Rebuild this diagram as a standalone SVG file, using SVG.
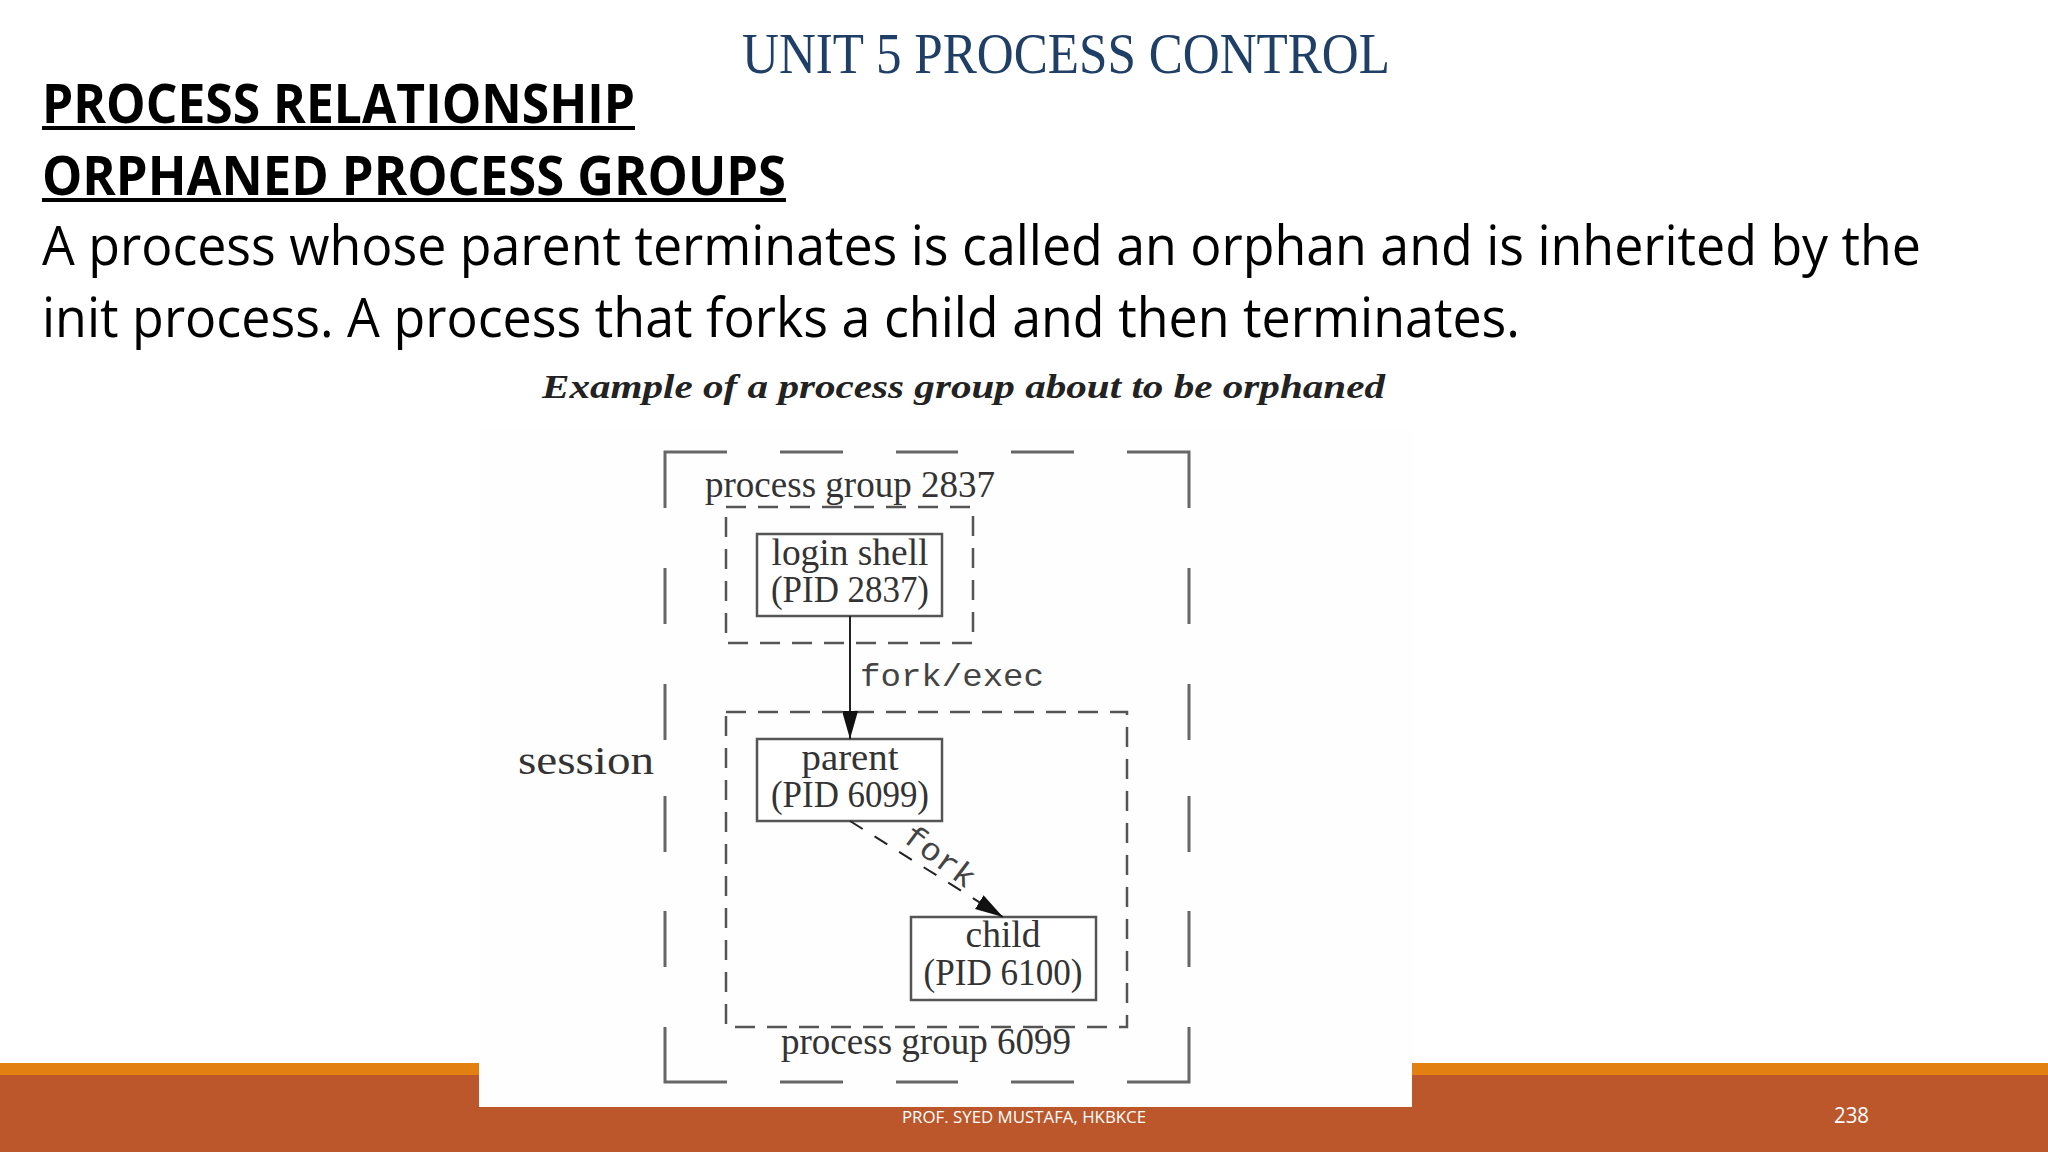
<svg xmlns="http://www.w3.org/2000/svg" width="2048" height="1152" viewBox="0 0 2048 1152">
<style>
.h{font-family:"Open Sans","Noto Sans",sans-serif;font-size:54px;fill:#000}
.b{font-weight:700}
.d{font-family:"Liberation Serif",serif;font-size:37px;fill:#333;text-anchor:middle}
.m{font-family:"Liberation Mono",monospace;font-size:32px;fill:#444}
.box{fill:#fff;stroke:#555;stroke-width:2.5}
.outer{fill:none;stroke:#666;stroke-width:3}
.inner{fill:none;stroke:#555;stroke-width:2.5;stroke-dasharray:20 12}
.f{font-family:"Open Sans","Noto Sans",sans-serif;fill:#fff}
</style>
<defs>
<marker id="arrow" markerUnits="userSpaceOnUse" markerWidth="30" markerHeight="18" refX="28" refY="8" orient="auto"><path d="M0 0L28 8L0 16Z" fill="#111"/></marker>
</defs>
<rect width="2048" height="1152" fill="#fff"/>
<g id="footer">
<rect x="0" y="1063" width="2048" height="12" fill="#e28012"/>
<rect x="0" y="1075" width="2048" height="77" fill="#bb572a"/>
</g>
<text id="title" x="742" y="73" font-family="Liberation Serif,serif" font-size="57" fill="#1f3f66" textLength="648" lengthAdjust="spacingAndGlyphs">UNIT 5 PROCESS CONTROL</text>
<g id="body">
<text class="h b" x="42" y="123" textLength="593" lengthAdjust="spacingAndGlyphs">PROCESS RELATIONSHIP</text>
<rect x="42" y="126" width="593" height="4" fill="#000"/>
<text class="h b" x="42" y="195" textLength="744" lengthAdjust="spacingAndGlyphs">ORPHANED PROCESS GROUPS</text>
<rect x="42" y="198" width="744" height="4" fill="#000"/>
<text class="h" x="42" y="265" textLength="1879" lengthAdjust="spacingAndGlyphs">A process whose parent terminates is called an orphan and is inherited by the</text>
<text class="h" x="42" y="337" textLength="1478" lengthAdjust="spacingAndGlyphs">init process. A process that forks a child and then terminates.</text>
</g>
<rect id="figure-bg" x="479" y="430" width="933" height="677" fill="#fefefe"/>
<text id="caption" x="542" y="398" font-family="Liberation Serif,serif" font-size="34" font-style="italic" font-weight="700" fill="#222" textLength="843" lengthAdjust="spacingAndGlyphs">Example of a process group about to be orphaned</text>
<g id="session">
<path class="outer" d="M665 508V452H727M780 452H843M896 452H958M1011 452H1074M1127 452H1189V508"/>
<path class="outer" d="M665 568V624M665 684V740M665 796V852M665 911V967M1189 568V624M1189 684V740M1189 796V852M1189 911V967"/>
<path class="outer" d="M665 1027V1082H727M780 1082H843M896 1082H958M1011 1082H1074M1127 1082H1189V1027"/>
<text class="d" x="586" y="774" style="font-size:41px" textLength="136" lengthAdjust="spacingAndGlyphs">session</text>
</g>
<g id="group-2837">
<rect class="inner" x="726" y="507" width="247" height="136"/>
<text class="d" x="850" y="497" textLength="290" lengthAdjust="spacingAndGlyphs">process group 2837</text>
</g>
<g id="group-6099">
<rect class="inner" x="726" y="712" width="401" height="315"/>
<text class="d" x="926" y="1054" textLength="290" lengthAdjust="spacingAndGlyphs">process group 6099</text>
</g>
<g id="login-shell">
<rect class="box" x="757" y="534" width="185" height="82"/>
<text class="d" x="850" y="565" textLength="157" lengthAdjust="spacingAndGlyphs">login shell</text>
<text class="d" x="850" y="602" textLength="158" lengthAdjust="spacingAndGlyphs">(PID 2837)</text>
</g>
<g id="parent">
<rect class="box" x="757" y="739" width="185" height="82"/>
<text class="d" x="850" y="770" textLength="97" lengthAdjust="spacingAndGlyphs">parent</text>
<text class="d" x="850" y="807" textLength="158" lengthAdjust="spacingAndGlyphs">(PID 6099)</text>
</g>
<g id="child">
<rect class="box" x="911" y="917" width="185" height="83"/>
<text class="d" x="1003" y="947" textLength="75" lengthAdjust="spacingAndGlyphs">child</text>
<text class="d" x="1003" y="985" textLength="159" lengthAdjust="spacingAndGlyphs">(PID 6100)</text>
</g>
<g id="connectors" fill="none" stroke="#222" stroke-width="2">
<line x1="850" y1="616" x2="850" y2="739" marker-end="url(#arrow)"/>
<line x1="850" y1="821" x2="1003" y2="917" stroke-dasharray="15 14" marker-end="url(#arrow)"/>
</g>
<g id="connector-labels">
<text class="m" x="860" y="686" textLength="184" lengthAdjust="spacingAndGlyphs">fork/exec</text>
<text class="m" transform="translate(901 840) rotate(37)" textLength="82" lengthAdjust="spacingAndGlyphs">fork</text>
</g>
<text class="f" x="902" y="1123" font-size="17" textLength="244" lengthAdjust="spacingAndGlyphs">PROF. SYED MUSTAFA, HKBKCE</text>
<text class="f" x="1834" y="1123" font-size="21" textLength="35" lengthAdjust="spacingAndGlyphs">238</text>
</svg>
